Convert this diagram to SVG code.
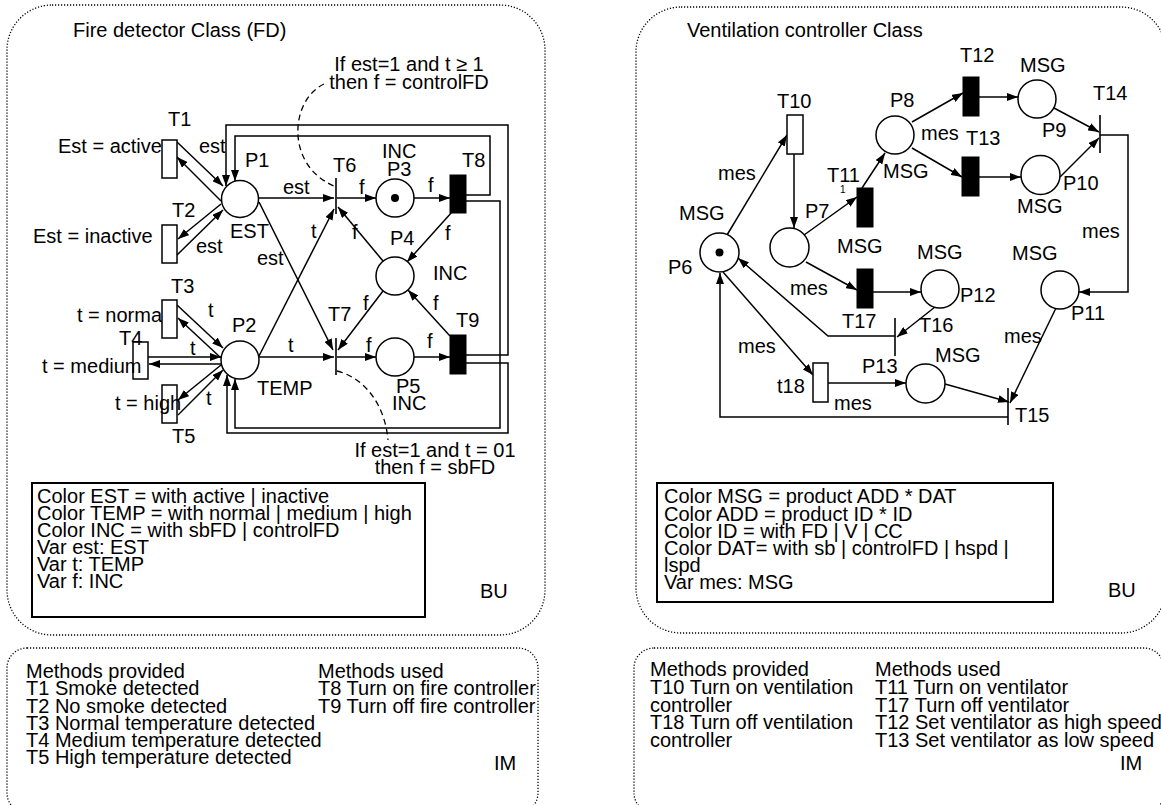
<svg xmlns="http://www.w3.org/2000/svg" width="1161" height="805" viewBox="0 0 1161 805">
<defs>
<style>
text{font-family:"Liberation Sans",Arial,sans-serif;font-size:20px;fill:#000}
.ln{stroke:#000;stroke-width:1.5;fill:none}
.ar{stroke:#000;stroke-width:1.5;fill:none;marker-end:url(#ah)}
.pl{fill:#fff;stroke:#000;stroke-width:1.5}
.tw{fill:#fff;stroke:#000;stroke-width:1.5}
.tb{fill:#000;stroke:#000;stroke-width:1}
.bar{stroke:#000;stroke-width:1.6}
.dot{fill:none;stroke:#000;stroke-width:1.3;stroke-dasharray:1.2 1.8}
.dash{fill:none;stroke:#000;stroke-width:1.3;stroke-dasharray:6 4}
.box{fill:none;stroke:#000;stroke-width:2}
</style>
<marker id="ah" viewBox="0 0 11 8" refX="11" refY="4" markerWidth="11" markerHeight="8" markerUnits="userSpaceOnUse" orient="auto"><path d="M0,0 L11,4 L0,8 z" fill="#000"/></marker>
</defs>
<rect width="1161" height="805" fill="#fff"/>

<!-- frames -->
<g id="frames">
<rect class="dot" x="7" y="5" width="538" height="630" rx="45"/>
<rect class="dot" x="636" y="7" width="530" height="626" rx="45"/>
<rect class="dot" x="7" y="648" width="531" height="165" rx="20"/>
<rect class="dot" x="634" y="648" width="530" height="165" rx="20"/>
<text x="73" y="37">Fire detector Class (FD)</text>
<text x="687" y="37">Ventilation controller Class</text>
</g>

<!-- connectors -->
<g id="connectors">
<!-- left net -->
<line class="ar" x1="177" y1="142" x2="223" y2="186"/>
<line class="ar" x1="221" y1="201" x2="177" y2="157"/>
<line class="ar" x1="221" y1="204" x2="178" y2="239"/>
<line class="ar" x1="177" y1="255" x2="223" y2="210"/>
<polyline class="ar" points="466,195 490,195 490,136 235,136 235,181"/>
<polyline class="ar" points="466,355 508,355 508,125 226,125 226,186"/>
<polyline class="ar" points="466,201 500,201 500,428 235,428 235,379"/>
<polyline class="ar" points="466,363 508,363 508,433 227,433 227,375"/>
<line class="ar" x1="259" y1="198" x2="334" y2="198"/>
<line class="ar" x1="337" y1="198" x2="376" y2="198"/>
<line class="ar" x1="414" y1="198" x2="450" y2="198"/>
<line class="ar" x1="452" y1="212" x2="407" y2="262"/>
<line class="ar" x1="383" y1="261" x2="338" y2="207"/>
<line class="ar" x1="383" y1="291" x2="338" y2="350"/>
<line class="ar" x1="450" y1="336" x2="408" y2="290"/>
<line class="ar" x1="259" y1="356" x2="334" y2="209"/>
<line class="ar" x1="259" y1="202" x2="333" y2="350"/>
<line class="ar" x1="259" y1="357" x2="334" y2="357"/>
<line class="ar" x1="337" y1="357" x2="376" y2="357"/>
<line class="ar" x1="414" y1="357" x2="450" y2="357"/>
<line class="ar" x1="177" y1="305" x2="223" y2="348"/>
<line class="ar" x1="221" y1="358" x2="178" y2="318"/>
<line class="ar" x1="148" y1="357" x2="221" y2="357"/>
<line class="ar" x1="221" y1="364" x2="149" y2="364"/>
<line class="ar" x1="221" y1="365" x2="178" y2="400"/>
<line class="ar" x1="178" y1="415" x2="223" y2="370"/>
<path class="dash" d="M324,84 C290,100 285,165 334,186"/>
<path class="dash" d="M337,371 C365,378 385,405 388,440"/>
<!-- right net -->
<line class="ar" x1="727" y1="235" x2="787" y2="135"/>
<line class="ar" x1="794" y1="154" x2="794" y2="228"/>
<line class="ar" x1="804" y1="235" x2="857" y2="197"/>
<line class="ar" x1="862" y1="188" x2="885" y2="153"/>
<line class="ar" x1="912" y1="122" x2="963" y2="93"/>
<line class="ar" x1="979" y1="97" x2="1018" y2="97"/>
<line class="ar" x1="1054" y1="108" x2="1099" y2="132"/>
<line class="ar" x1="912" y1="148" x2="962" y2="177"/>
<line class="ar" x1="979" y1="177" x2="1021" y2="177"/>
<line class="ar" x1="1060" y1="177" x2="1099" y2="138"/>
<polyline class="ar" points="1100,135 1128,135 1128,292 1079,292"/>
<line class="ar" x1="1056" y1="308" x2="1010" y2="403"/>
<line class="ar" x1="945" y1="384" x2="1009" y2="402"/>
<polyline class="ar" points="1008,417 720,417 720,273"/>
<line class="ar" x1="873" y1="292" x2="921" y2="292"/>
<line class="ar" x1="806" y1="262" x2="857" y2="290"/>
<line class="ar" x1="935" y1="307" x2="897" y2="337"/>
<polyline class="ar" points="895,336 828,336 738,258"/>
<line class="ar" x1="723" y1="272" x2="813" y2="375"/>
<line class="ar" x1="828" y1="383" x2="906" y2="383"/>
</g>

<!-- left nodes -->
<g id="P1"><circle class="pl" cx="240" cy="199" r="18.5"/><text x="245" y="167">P1</text><text x="230" y="238">EST</text></g>
<g id="T1"><text x="58" y="153">Est = active</text><rect class="tw" x="162" y="140" width="15" height="38"/><text x="168" y="126">T1</text><text x="199" y="153">est</text></g>
<g id="T2"><text x="33" y="243">Est = inactive</text><rect class="tw" x="162" y="225" width="15" height="38"/><text x="172" y="217">T2</text><text x="196" y="253">est</text></g>
<g id="T6"><line class="bar" x1="336" y1="178" x2="336" y2="214"/><text x="333" y="172">T6</text><text x="283" y="194">est</text><text x="359" y="194">f</text></g>
<g id="P3"><circle class="pl" cx="395" cy="198" r="19"/><circle cx="395" cy="198" r="4" fill="#000"/><text x="382" y="158">INC</text><text x="387" y="176">P3</text><text x="428" y="192">f</text></g>
<g id="T8"><rect class="tb" x="450" y="175" width="16" height="38"/><text x="462" y="167">T8</text><text x="445" y="240">f</text></g>
<g id="P4"><circle class="pl" cx="395" cy="276" r="19"/><text x="390" y="245">P4</text><text x="433" y="280">INC</text><text x="352" y="239">f</text><text x="363" y="310">f</text><text x="433" y="310">f</text></g>
<g id="T7"><line class="bar" x1="336" y1="338" x2="336" y2="375"/><text x="328" y="321">T7</text><text x="288" y="352">t</text><text x="366" y="352">f</text><text x="257" y="265">est</text><text x="311" y="238">t</text></g>
<g id="P5"><circle class="pl" cx="395" cy="357" r="19"/><text x="396" y="393">P5</text><text x="392" y="410">INC</text><text x="427" y="348">f</text></g>
<g id="T9"><rect class="tb" x="450" y="335" width="16" height="39"/><text x="456" y="327">T9</text></g>
<g id="P2"><circle class="pl" cx="240" cy="360" r="19"/><text x="232" y="332">P2</text><text x="257" y="395">TEMP</text></g>
<g id="T3"><text x="77" y="322">t = normal</text><rect class="tw" x="162" y="300" width="15" height="38"/><text x="171" y="293">T3</text><text x="208" y="317">t</text></g>
<g id="T4"><rect class="tw" x="133" y="342" width="15" height="37"/><text x="42" y="373">t = medium</text><text x="119" y="345">T4</text><text x="190" y="355">t</text></g>
<g id="T5"><rect class="tw" x="162" y="385" width="15" height="38"/><text x="115" y="410">t = high</text><text x="172" y="443">T5</text><text x="206" y="405">t</text></g>
<g id="guards">
<text x="409" y="71" text-anchor="middle">If est=1 and t ≥ 1</text>
<text x="409" y="89" text-anchor="middle">then f = controlFD</text>
<text x="435" y="457" text-anchor="middle">If est=1 and t = 01</text>
<text x="435" y="474" text-anchor="middle">then f = sbFD</text>
</g>
<g id="decl-left">
<rect class="box" x="32" y="483" width="393" height="134"/>
<text x="37" y="503">Color EST = with active | inactive</text>
<text x="37" y="520">Color TEMP = with normal | medium | high</text>
<text x="37" y="537">Color INC = with sbFD | controlFD</text>
<text x="37" y="554">Var est: EST</text>
<text x="37" y="571">Var t: TEMP</text>
<text x="37" y="588">Var f: INC</text>
<text x="480" y="598">BU</text>
</g>
<g id="im-left">
<text x="26" y="678">Methods provided</text>
<text x="26" y="695">T1 Smoke detected</text>
<text x="26" y="713">T2 No smoke detected</text>
<text x="26" y="730">T3 Normal temperature detected</text>
<text x="26" y="747">T4 Medium temperature detected</text>
<text x="26" y="764">T5 High temperature detected</text>
<text x="318" y="678">Methods used</text>
<text x="318" y="695">T8 Turn on fire controller</text>
<text x="318" y="713">T9 Turn off fire controller</text>
<text x="494" y="770">IM</text>
</g>

<!-- right nodes -->
<g id="P6"><circle class="pl" cx="719.5" cy="252.5" r="19.5"/><circle cx="719.5" cy="252.5" r="4" fill="#000"/><text x="679" y="220">MSG</text><text x="668" y="274">P6</text><text x="718" y="180">mes</text></g>
<g id="T10"><rect class="tw" x="787" y="115" width="16" height="39"/><text x="777" y="108">T10</text></g>
<g id="P7"><circle class="pl" cx="789.5" cy="247.5" r="19.5"/><text x="805" y="218">P7</text><text x="837" y="253">MSG</text></g>
<g id="T11"><rect class="tb" x="857" y="188" width="16" height="39"/><text x="827" y="182">T11</text><text x="840" y="193" style="font-size:10px">1</text></g>
<g id="P8"><circle class="pl" cx="895" cy="135" r="19"/><text x="890" y="107">P8</text><text x="883" y="178">MSG</text><text x="921" y="140">mes</text></g>
<g id="T12"><rect class="tb" x="963" y="77" width="16" height="39"/><text x="960" y="62">T12</text></g>
<g id="P9"><circle class="pl" cx="1037" cy="99" r="19"/><text x="1020" y="72">MSG</text><text x="1042" y="137">P9</text></g>
<g id="T13"><rect class="tb" x="962" y="157" width="17" height="39"/><text x="966" y="145">T13</text></g>
<g id="P10"><circle class="pl" cx="1040.5" cy="175" r="19.5"/><text x="1063" y="190">P10</text><text x="1017" y="213">MSG</text></g>
<g id="T14"><line class="bar" x1="1100" y1="115" x2="1100" y2="153"/><text x="1093" y="100">T14</text><text x="1082" y="238">mes</text></g>
<g id="P11"><circle class="pl" cx="1060" cy="290" r="19"/><text x="1012" y="260">MSG</text><text x="1071" y="320">P11</text><text x="1004" y="343">mes</text></g>
<g id="T17"><rect class="tb" x="857" y="269" width="16" height="39"/><text x="842" y="328">T17</text></g>
<g id="P12"><circle class="pl" cx="940" cy="289" r="19"/><text x="917" y="259">MSG</text><text x="960" y="302">P12</text></g>
<g id="T16"><line class="bar" x1="895" y1="318" x2="895" y2="356"/><text x="919" y="332">T16</text><text x="790" y="295">mes</text></g>
<g id="t18"><rect class="tw" x="813" y="363" width="15" height="39"/><text x="777" y="393">t18</text><text x="738" y="353">mes</text><text x="834" y="410">mes</text></g>
<g id="P13"><circle class="pl" cx="925.5" cy="383.5" r="19.5"/><text x="935" y="362">MSG</text><text x="862" y="373">P13</text></g>
<g id="T15"><line class="bar" x1="1008" y1="388" x2="1008" y2="425"/><text x="1015" y="422">T15</text></g>
<g id="decl-right">
<rect class="box" x="657" y="483" width="396" height="119"/>
<text x="664" y="503">Color MSG = product ADD * DAT</text>
<text x="664" y="521">Color ADD = product ID * ID</text>
<text x="664" y="538">Color ID = with FD | V | CC</text>
<text x="664" y="555">Color DAT= with sb | controlFD | hspd |</text>
<text x="664" y="572">lspd</text>
<text x="664" y="589">Var mes: MSG</text>
<text x="1108" y="597">BU</text>
</g>
<g id="im-right">
<text x="650" y="676">Methods provided</text>
<text x="650" y="694">T10 Turn on ventilation</text>
<text x="650" y="712">controller</text>
<text x="650" y="729">T18 Turn off ventilation</text>
<text x="650" y="747">controller</text>
<text x="875" y="676">Methods used</text>
<text x="875" y="694">T11 Turn on ventilator</text>
<text x="875" y="712">T17 Turn off ventilator</text>
<text x="875" y="729">T12 Set ventilator as high speed</text>
<text x="875" y="747">T13 Set ventilator as low speed</text>
<text x="1120" y="770">IM</text>
</g>
</svg>
